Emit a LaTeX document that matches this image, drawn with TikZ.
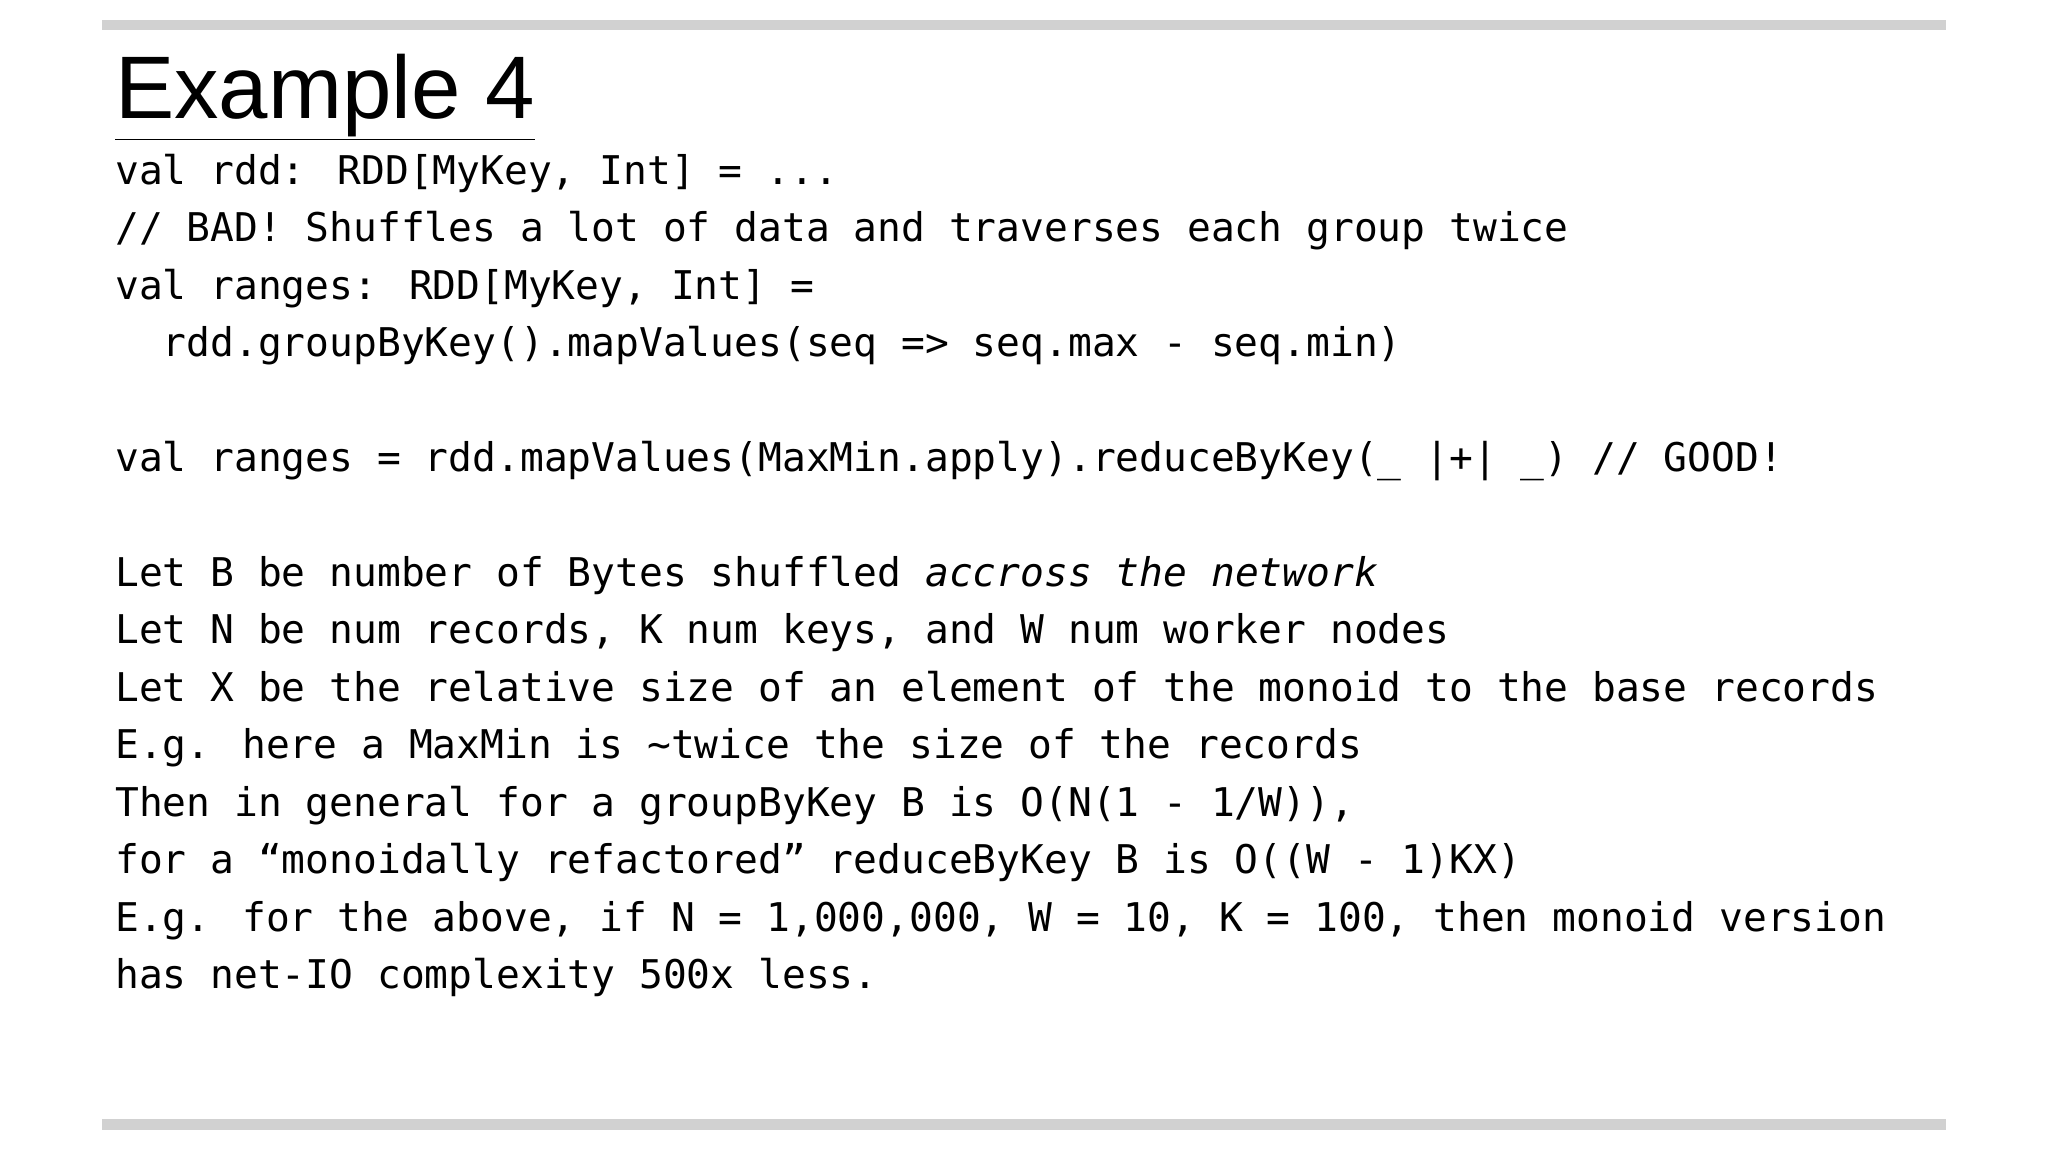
\documentclass[tikz,border=0pt]{standalone}
\usepackage{fontspec}
\setmainfont{Liberation Sans}
\newfontfamily\codefont{DejaVu Sans Mono}
\begin{document}
\begin{tikzpicture}[x=1pt,y=-1pt,
  codeline/.style={anchor=base west,inner sep=0pt,font=\codefont\fontsize{30.3}{36}\selectfont},
  bar/.style={fill=black!18,draw=none}]
\useasboundingbox (0,0) rectangle (1568,882);
\fill[bar] (78,15) rectangle (1490,23);
\fill[bar] (78,857) rectangle (1490,865);
\node[anchor=base west,inner sep=0pt,font=\fontsize{68}{80}\selectfont] (title) at (88,91) {\underline{Example 4}};
\node[codeline] (l1) at (88,141) {val rdd: RDD[MyKey, Int] = ...};
\node[codeline] (l2) at (88,185) {// BAD! Shuffles a lot of data and traverses each group twice};
\node[codeline] (l3) at (88,229) {val ranges: RDD[MyKey, Int] =};
\node[codeline] (l4) at (88,273) {\ \ rdd.groupByKey().mapValues(seq => seq.max - seq.min)};
\node[codeline] (l5) at (88,361) {val ranges = rdd.mapValues(MaxMin.apply).reduceByKey(\_ |+| \_) // GOOD!};
\node[codeline] (l6) at (88,449) {Let B be number of Bytes shuffled \textit{accross the network}};
\node[codeline] (l7) at (88,493) {Let N be num records, K num keys, and W num worker nodes};
\node[codeline] (l8) at (88,537) {Let X be the relative size of an element of the monoid to the base records};
\node[codeline] (l9) at (88,581) {E.g. here a MaxMin is \textasciitilde twice the size of the records};
\node[codeline] (l10) at (88,625) {Then in general for a groupByKey B is O(N(1 - 1/W)),};
\node[codeline] (l11) at (88,669) {for a “monoidally refactored” reduceByKey B is O((W - 1)KX)};
\node[codeline] (l12) at (88,713) {E.g. for the above, if N = 1,000,000, W = 10, K = 100, then monoid version};
\node[codeline] (l13) at (88,757) {has net-IO complexity 500x less.};
\end{tikzpicture}
\end{document}
